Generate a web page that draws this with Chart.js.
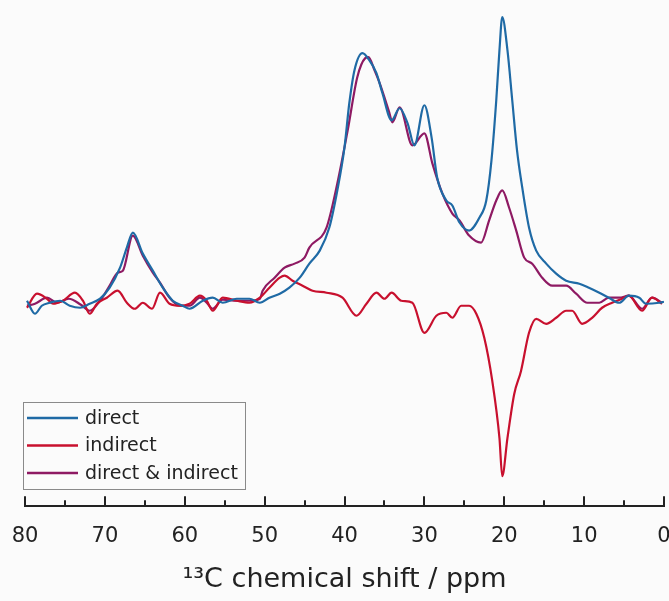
<!DOCTYPE html>
<html>
<head>
<meta charset="utf-8">
<script src="https://cdn.jsdelivr.net/npm/chart.js@4.4.1/dist/chart.umd.min.js"></script>
<style>
  html, body { margin: 0; padding: 0; background: #fbfbfb; }
  #wrap { width: 669px; height: 601px; }
</style>
</head>
<body>
<div id="wrap"><canvas id="c" width="669" height="601"></canvas></div>
<script>
// chemical shift (ppm) and intensity
const directPpm = [79.75,78.75,77.9,76.9,75.6,74.4,73.1,71.9,70.6,69.4,68.1,67.25,66.5,65.25,64,62.75,61.5,60.25,59.4,57.75,56.5,55.25,53.5,51.9,50.6,49.4,48.1,46.9,45.6,44.4,43.1,41.9,40.9,40,39.4,38.75,37.75,36.9,36,35.25,34.1,33.1,32.1,31.25,30,29.1,28.4,27.25,26.5,25.6,24.4,23.1,22.25,21.6,21,20.6,20.25,19.6,19,18.4,17.75,16.9,16,14.75,13.5,12.25,10.6,9.4,8.1,6.9,5.6,4.4,3.1,2.25,0.6,0];
const directInt = [0,-13,-5,-2,0,-5,-7,-3,2,13,33,53,68,47,30,13,0,-5,-8,0,3,-2,2,2,-2,3,7,13,23,37,50,73,110,153,197,230,247,240,227,207,180,192,177,155,195,163,123,100,95,78,70,83,100,140,200,250,283,250,200,150,113,73,50,37,27,20,17,13,8,3,-2,5,3,-3,-2,-1];

const indirectPpm = [79.75,78.5,77.25,76.5,75.25,73.75,72.75,71.9,71,69.75,68.4,67.25,66.25,65.25,64.1,63.1,61.9,60.6,59.4,58.1,57.25,56.5,55.25,53.5,51.9,50.6,49.4,48.1,47.5,46.5,45.25,44,42.25,40.25,38.5,37.25,36,35,34.1,32.9,31.5,30,28.5,27.25,26.5,25.4,24.4,23.5,22.5,21.5,20.6,20.25,19.6,18.75,17.9,16.9,16,14.75,13.5,12.25,11.5,10.25,9,7.75,6.5,5.25,4.4,2.75,1.5,0.25];
const indirectInt = [-7,7,2,-3,0,8,0,-13,-3,3,10,-2,-8,-2,-8,8,-3,-5,-3,5,0,-10,3,0,-2,3,13,23,25,20,15,10,8,3,-15,-3,8,2,8,0,-2,-32,-15,-12,-17,-5,-5,-13,-37,-80,-137,-175,-137,-93,-70,-32,-18,-23,-17,-10,-10,-23,-17,-7,-2,2,5,-10,3,-3];

const bothPpm = [79.75,78.75,77.25,76,74.5,73,71.9,70.6,69.4,68.4,67.75,66.5,65.25,64,63.1,61.9,60.6,59.4,58.1,57.25,56.5,55.25,53.5,51.9,50.6,50.25,48.75,47.5,46.25,45,44.4,42.25,40.9,39.6,38.4,37.4,37,36.25,35.6,34.4,34,33.1,31.5,30,29,27.75,26.5,25.6,24.4,22.9,21.9,21,20.25,19.4,18.5,17.5,16.5,15.25,14,12.25,11,9.6,8.1,6.9,5.6,4.4,2.75,1.5,0.25];
const bothInt = [-5,-3,3,-2,2,-4,-10,0,15,28,30,65,45,28,18,3,-5,-5,3,-2,-8,1,0,0,2,10,23,33,37,43,53,73,117,170,223,242,243,230,217,188,178,193,155,167,137,107,87,80,65,58,80,100,110,93,70,43,37,23,15,15,7,-2,-2,3,3,5,-8,3,-2];

const seriesNames = ['direct', 'indirect', 'direct & indirect'];
const seriesColors = ['#1f6aa5', '#c8102e', '#8e1a63'];
const xTicks = [80, 70, 60, 50, 40, 30, 20, 10, 0];

const FONT = "'DejaVu Sans', sans-serif";

const toPoints = (xs, ys) => xs.map((x, i) => ({ x: x, y: ys[i] }));

// inward tick marks along the bottom axis
const innerTicks = {
  id: 'innerTicks',
  afterDatasetsDraw(chart) {
    const ctx = chart.ctx;
    const xs = chart.scales.x;
    const bottom = chart.chartArea.bottom;
    ctx.save();
    ctx.strokeStyle = '#222';
    ctx.lineWidth = 2;
    for (let v = 0; v <= 80; v += 5) {
      const px = Math.round(xs.getPixelForValue(v));
      const len = v % 10 === 0 ? 10 : 6;
      ctx.beginPath();
      ctx.moveTo(px, bottom);
      ctx.lineTo(px, bottom - len);
      ctx.stroke();
    }
    ctx.restore();
  }
};

// boxed legend inside the plot, bottom left
const boxLegend = {
  id: 'boxLegend',
  afterDatasetsDraw(chart) {
    const ctx = chart.ctx;
    const left = 23;
    const top = 402;
    ctx.save();
    ctx.strokeStyle = '#8a8a8a';
    ctx.lineWidth = 1;
    ctx.strokeRect(left + 0.5, top + 0.5, 222, 87);
    ctx.font = '19px ' + FONT;
    ctx.textBaseline = 'middle';
    chart.data.datasets.forEach((ds, i) => {
      const y = top + 16 + i * 27.5;
      ctx.strokeStyle = ds.borderColor;
      ctx.lineWidth = 2.5;
      ctx.beginPath();
      ctx.moveTo(left + 4, y);
      ctx.lineTo(left + 55, y);
      ctx.stroke();
      ctx.fillStyle = '#222';
      ctx.fillText(ds.label, left + 62, y + 1);
    });
    ctx.restore();
  }
};

const makeSet = (i, xs, ys) => ({
  label: seriesNames[i],
  data: toPoints(xs, ys),
  borderColor: seriesColors[i],
  borderWidth: 2.2,
  pointRadius: 0,
  cubicInterpolationMode: 'monotone',
  fill: false
});

new Chart(document.getElementById('c'), {
  type: 'line',
  data: {
    datasets: [
      makeSet(0, directPpm, directInt),
      makeSet(1, indirectPpm, indirectInt),
      makeSet(2, bothPpm, bothInt)
    ]
  },
  options: {
    responsive: false,
    animation: false,
    layout: { padding: { top: 5, left: 25, right: 5, bottom: 0 } },
    plugins: {
      legend: { display: false },
      tooltip: { enabled: false }
    },
    scales: {
      x: {
        type: 'linear',
        reverse: true,
        min: 0,
        max: 80,
        border: { display: true, color: '#222', width: 2 },
        grid: { display: false, drawTicks: false },
        afterBuildTicks(scale) {
          scale.ticks = xTicks.map(v => ({ value: v }));
        },
        afterFit(scale) {
          // let the end labels hang over the plot edges
          scale.paddingLeft = 0;
          scale.paddingRight = 0;
        },
        ticks: {
          padding: 19,
          maxRotation: 0,
          autoSkip: false,
          color: '#222',
          font: { family: FONT, size: 21, lineHeight: 1.06 }
        },
        title: {
          display: true,
          text: '¹³C chemical shift / ppm',
          color: '#222',
          font: { family: FONT, size: 27, lineHeight: 1.0 },
          padding: { top: 0, bottom: 7.5 }
        }
      },
      y: {
        display: false,
        min: -205,
        max: 295
      }
    }
  },
  plugins: [innerTicks, boxLegend]
});
</script>
</body>
</html>
